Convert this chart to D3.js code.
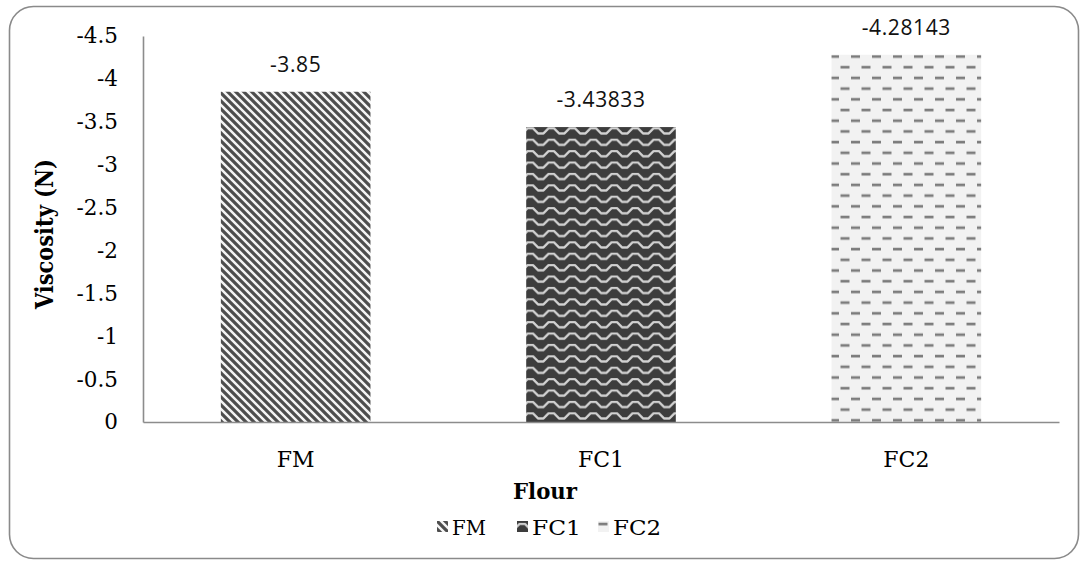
<!DOCTYPE html>
<html>
<head>
<meta charset="utf-8">
<script src="https://cdn.jsdelivr.net/npm/d3@7"></script>
<style>
  html, body { margin: 0; padding: 0; background: #ffffff; }
  svg { display: block; }
</style>
</head>
<body>
<svg id="chart" width="1081" height="561"></svg>
<script>
// Viscosity by flour type
const categories = ["FM", "FC1", "FC2"];
const values = [-3.85, -3.43833, -4.28143];
const valueLabels = ["-3.85", "-3.43833", "-4.28143"];
const yTicks = [0, -0.5, -1, -1.5, -2, -2.5, -3, -3.5, -4, -4.5];
const yTickLabels = ["0", "-0.5", "-1", "-1.5", "-2", "-2.5", "-3", "-3.5", "-4", "-4.5"];
const legendLabels = ["FM", "FC1", "FC2"];

const svg = d3.select("#chart");
const plot = { left: 143, right: 1059, top: 36, bottom: 422 };

const serif = "'DejaVu Serif', serif";
const sans = "'Open Sans', 'Liberation Sans', sans-serif";

// Fill patterns
const defs = svg.append("defs");

const pFM = defs.append("pattern").attr("id", "pat-FM")
  .attr("patternUnits", "userSpaceOnUse").attr("width", 8).attr("height", 8);
pFM.append("rect").attr("width", 8).attr("height", 8).attr("fill", "#f4f4f4");
pFM.append("path")
  .attr("d", "M-2,-2 L10,10 M-2,6 L2,10 M6,-2 L10,2")
  .attr("stroke", "#4d4d4d").attr("stroke-width", 3.2).attr("fill", "none");

const pFC1 = defs.append("pattern").attr("id", "pat-FC1")
  .attr("patternUnits", "userSpaceOnUse").attr("width", 21).attr("height", 11.4);
pFC1.append("rect").attr("width", 21).attr("height", 11.4).attr("fill", "#3d3d3d");
pFC1.append("path")
  .attr("d", "M-2.5,8 L2.5,3 L8,3 L13,8 L18.5,8 L23.5,3")
  .attr("stroke", "#d2d2d2").attr("stroke-width", 2.3).attr("fill", "none")
  .attr("stroke-linejoin", "round");

const pFC2 = defs.append("pattern").attr("id", "pat-FC2")
  .attr("patternUnits", "userSpaceOnUse").attr("width", 21).attr("height", 21.4);
pFC2.append("rect").attr("width", 21).attr("height", 21.4).attr("fill", "#f2f2f2");
pFC2.append("path")
  .attr("d", "M0.5,3 L9.5,3 M11,13.7 L20,13.7")
  .attr("stroke", "#7c7c7c").attr("stroke-width", 2.6).attr("fill", "none");

const fills = { FM: "url(#pat-FM)", FC1: "url(#pat-FC1)", FC2: "url(#pat-FC2)" };

// Chart border
svg.append("rect")
  .attr("x", 9.5).attr("y", 6.5)
  .attr("width", 1069).attr("height", 552)
  .attr("rx", 24).attr("ry", 24)
  .attr("fill", "#ffffff").attr("stroke", "#8a8a8a").attr("stroke-width", 1.6);

// Scales
const x = d3.scaleBand().domain(categories)
  .range([plot.left, plot.right]).paddingInner(0.51).paddingOuter(0.255);
const y = d3.scaleLinear().domain([0, -4.5]).range([plot.bottom, plot.top]);

// Bars
svg.append("g").selectAll("rect")
  .data(categories)
  .join("rect")
  .attr("x", d => x(d))
  .attr("width", x.bandwidth())
  .attr("y", (d, i) => y(values[i]))
  .attr("height", (d, i) => y(0) - y(values[i]))
  .attr("fill", d => fills[d]);

// Y axis
const yAxis = d3.axisLeft(y)
  .tickValues(yTicks)
  .tickFormat((d, i) => yTickLabels[i])
  .tickSize(0).tickPadding(25);
const gy = svg.append("g").attr("transform", `translate(${plot.left},0)`).call(yAxis);
gy.select(".domain").attr("stroke", "#8c8c8c").attr("stroke-width", 1.6);
gy.selectAll("text")
  .attr("font-family", serif).attr("font-size", 21.5).attr("fill", "#000");

// X axis
const xAxis = d3.axisBottom(x).tickSize(0).tickPadding(29);
const gx = svg.append("g").attr("transform", `translate(0,${plot.bottom})`).call(xAxis);
gx.select(".domain").attr("stroke", "#8c8c8c").attr("stroke-width", 1.6);
gx.selectAll("text")
  .attr("font-family", serif).attr("font-size", 22).attr("fill", "#000");

// Value labels
svg.append("g").selectAll("text")
  .data(categories)
  .join("text")
  .attr("x", d => x(d) + x.bandwidth() / 2)
  .attr("y", (d, i) => y(values[i]) - 20)
  .attr("text-anchor", "middle")
  .attr("font-family", sans).attr("font-size", 21).attr("letter-spacing", 0.6)
  .attr("fill", "#111")
  .text((d, i) => valueLabels[i]);

// Axis titles
svg.append("text")
  .attr("transform", "translate(53,234) rotate(-90)")
  .attr("text-anchor", "middle")
  .attr("font-family", serif).attr("font-weight", "bold").attr("font-size", 23.5)
  .attr("textLength", 150).attr("lengthAdjust", "spacingAndGlyphs")
  .attr("fill", "#000")
  .text("Viscosity (N)");

svg.append("text")
  .attr("x", 545).attr("y", 499)
  .attr("text-anchor", "middle")
  .attr("font-family", serif).attr("font-weight", "bold").attr("font-size", 23)
  .attr("textLength", 64).attr("lengthAdjust", "spacingAndGlyphs")
  .attr("fill", "#000")
  .text("Flour");

// Legend
const legendX = [437, 517, 598];
const legendTextW = [34, 49, 48];
const lg = svg.append("g");
legendLabels.forEach((name, i) => {
  const g = lg.append("g").attr("transform", `translate(${legendX[i]},521)`);
  g.append("rect").attr("width", 11).attr("height", 11).attr("fill", fills[name]);
  g.append("text").attr("x", 15).attr("y", 14)
    .attr("font-family", serif).attr("font-size", 21)
    .attr("textLength", legendTextW[i]).attr("lengthAdjust", "spacingAndGlyphs")
    .attr("fill", "#000")
    .text(name);
});
</script>
</body>
</html>
